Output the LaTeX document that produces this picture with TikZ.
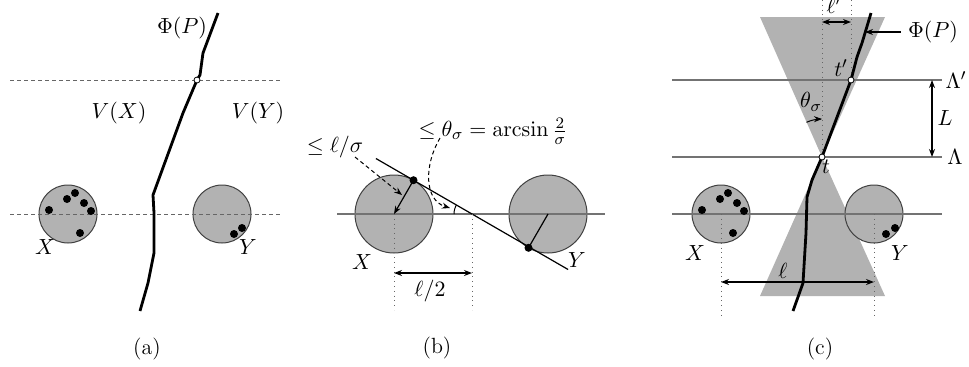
\documentclass[tikz,border=0pt]{standalone}
\usetikzlibrary{arrows.meta,calc}
\begin{document}
\begin{tikzpicture}[x=0.5pt,y=-0.5pt,
  font=\fontsize{11}{13}\selectfont,
  ball/.style={circle, draw=black!75, fill=black!30, line width=0.5pt, inner sep=0pt, minimum size=29pt},
  bigball/.style={ball, minimum size=39pt},
  pt/.style={circle, fill=black, inner sep=0pt, minimum size=4pt},
  hole/.style={circle, draw=black, fill=white, inner sep=0pt, minimum size=3pt, line width=0.4pt},
  curve/.style={line width=1.4pt, line join=round},
  guide/.style={draw=black!55, line width=0.6pt},
  dline/.style={draw=black!60, line width=0.5pt, dash pattern=on 2pt off 1.5pt},
  dotline/.style={draw=black!60, line width=0.4pt, dotted},
  tip/.style={-{Stealth[length=4pt,width=3pt]}},
  dtip/.style={{Stealth[length=4pt,width=3pt]}-{Stealth[length=4pt,width=3pt]}},
  cone/.style={fill=black!30}
]
\useasboundingbox (0,0) rectangle (969,366);

% ---------------- (a) ----------------
\node[ball] (Xa) at (68,214) {};
\node[ball] (Ya) at (222,214) {};
\draw[dline] (10,80) -- (280,80);
\draw[dline] (10,214) -- (280,214);
\foreach \p/\q in {49/210,67/199,75/193,84/203,91/211,80/233,234/234,242/228}
  \node[pt] at (\p,\q) {};
\draw[curve] (218,13) -- (203,53) -- (200,75) -- (197,80) coordinate (pa) -- (183,113) -- (153,195) -- (154,213) -- (154,253) -- (148,283) -- (140,311);
\node[hole] at (pa) {};
\node (phia) at (182,28) {$\Phi(P)$};
\node (vx) at (119,113) {$V(X)$};
\node (vy) at (258,113) {$V(Y)$};
\node (xa) at (45,247) {$X$};
\node (ya) at (248,247) {$Y$};
\node (capa) at (147,349) {(a)};

% ---------------- (b) ----------------
\node[bigball] (Xb) at (394,214) {};
\node[bigball] (Yb) at (548,214) {};
\draw[guide] (337,214) -- (605,214);
\coordinate (I) at (472,214);
\coordinate (TX) at (413.5,180.2);
\coordinate (TY) at (528.5,247.8);
\draw[line width=0.6pt] (375.9,158.5) -- (568.1,269.5);
\draw[line width=0.6pt, tip] (TX) -- (Xb.center);
\draw[line width=0.6pt] (Yb.center) -- (TY);
\node[pt] at (TX) {};
\node[pt] at (TY) {};
\draw[line width=0.5pt] plot[domain=180:210, samples=12] ({472+18*cos(\x)},{214+18*sin(\x)});
\draw[dotline] (Xb.center) -- (394,310);
\draw[dotline] (I) -- (472,310);
\draw[line width=0.6pt, dtip] (394,273) -- (472,273);
\node (half) at (430,291) {$\ell/2$};
\node (lsig) at (335,147) {$\le \ell/\sigma$};
\draw[line width=0.5pt, dash pattern=on 2pt off 1.5pt, tip] (355,157) -- (402,195);
\node (thb) at (493,131) {$\le \theta_\sigma = \arcsin\frac{2}{\sigma}$};
\draw[line width=0.5pt, dash pattern=on 2pt off 1.5pt, tip] (440,138) .. controls (424,165) and (424,200) .. (450,208);
\node (xb) at (362,262) {$X$};
\node (yb) at (577,260) {$Y$};
\node (capb) at (437,348) {(b)};

% ---------------- (c) ----------------
\coordinate (t) at (822,157);
\coordinate (tp) at (851,80);
\fill[cone] (760,17) -- (885,17) -- (t) -- cycle;
\fill[cone] (760,296) -- (885,296) -- (t) -- cycle;
\node[ball] (Xc) at (721,214) {};
\node[ball] (Yc) at (874,214) {};
\draw[guide] (672,80) -- (942,80);
\draw[guide] (672,157) -- (942,157);
\draw[guide] (672,214) -- (942,214);
\foreach \p/\q in {702/210,720/199,728/193,737/203,744/211,733/233,886/234,895/228}
  \node[pt] at (\p,\q) {};
\draw[dotline] (Xc.center) -- (721,317);
\draw[dotline] (Yc.center) -- (874,317);
\draw[line width=0.6pt, dtip] (721,282) -- (874,282);
\node (ell) at (783,271) {$\ell$};
\draw[dotline] (822,0) -- (t);
\draw[dotline] (851,0) -- (tp);
\draw[line width=0.6pt, dtip] (822,22) -- (851,22);
\node (ellp) at (834,5) {$\ell'$};
\draw[line width=0.5pt, tip] plot[domain=246:270, samples=12] ({822+38*cos(\x)},{157+38*sin(\x)});
\draw[curve] (871,13) -- (862,43) -- (857,57) -- (tp) -- (t) -- (812,180) -- (807,197) -- (806,233) -- (803,283) -- (793,311);
\node[hole] at (t) {};
\node[hole] at (tp) {};
\node (phic) at (933,32) {$\Phi(P)$};
\draw[line width=0.6pt, tip] (phic.west) -- (865,32);
\node (tplab) at (841,68) {$t'$};
\node (tlab) at (826,167) {$t$};
\node (ths) at (811,102) {$\theta_\sigma$};
\draw[line width=0.6pt, dtip] (932,80) -- (932,157);
\node (Llab) at (945,118) {$L$};
\node (lamp) at (956,80) {$\Lambda'$};
\node (lam) at (955,157) {$\Lambda$};
\node (xc) at (695,253) {$X$};
\node (yc) at (900,253) {$Y$};
\node (capc) at (820,349) {(c)};
\end{tikzpicture}
\end{document}
